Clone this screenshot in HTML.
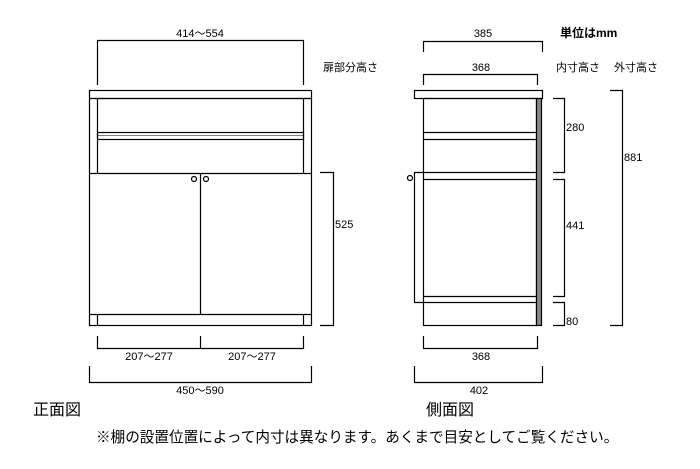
<!DOCTYPE html>
<html><head><meta charset="utf-8"><style>
body{margin:0;background:#fff}
svg text{font-family:"Liberation Sans","Noto Sans CJK JP",sans-serif;fill:#000}
</style></head><body>
<svg width="700" height="464" viewBox="0 0 700 464" xmlns="http://www.w3.org/2000/svg">
<g fill="none" stroke="#000" stroke-width="1.2">
<!-- FRONT -->
<rect x="89.5" y="90.5" width="222" height="8"/>
<rect x="89.5" y="98.5" width="222" height="227"/>
<line x1="97.5" y1="98" x2="97.5" y2="173"/>
<line x1="303.5" y1="98" x2="303.5" y2="173"/>
<rect x="97.5" y="132.5" width="206" height="7"/>
<line x1="97.5" y1="135.5" x2="303.5" y2="135.5" stroke-width="0.6"/>
<line x1="89" y1="173.5" x2="311" y2="173.5"/>
<line x1="200.5" y1="173" x2="200.5" y2="314"/>
<line x1="89" y1="314.5" x2="311" y2="314.5"/>
<line x1="97.5" y1="314" x2="97.5" y2="326"/>
<line x1="303.5" y1="314" x2="303.5" y2="326"/>
<circle cx="194" cy="179" r="2.5"/>
<circle cx="206" cy="179" r="2.5"/>
<!-- front dims -->
<polyline points="97.5,85 97.5,40.5 303.5,40.5 303.5,85"/>
<polyline points="320,172.5 333.5,172.5 333.5,325.5 320,325.5"/>
<polyline points="97.5,336 97.5,348.5 303.5,348.5 303.5,336"/>
<line x1="200.5" y1="336" x2="200.5" y2="348"/>
<polyline points="89.5,366 89.5,382.5 311.5,382.5 311.5,366"/>
<!-- SIDE -->
<rect x="414.5" y="90.5" width="128" height="8"/>
<rect x="423.5" y="98.5" width="113" height="227"/>
<rect x="536.5" y="98.5" width="5" height="227" fill="#888"/>
<line x1="423" y1="132.5" x2="537" y2="132.5"/>
<line x1="423" y1="139.5" x2="537" y2="139.5"/>
<line x1="423" y1="172.5" x2="537" y2="172.5"/>
<line x1="423" y1="179.5" x2="537" y2="179.5"/>
<line x1="423" y1="296.5" x2="537" y2="296.5"/>
<polyline points="423,172.5 414.5,172.5 414.5,302.5 537,302.5"/>
<circle cx="410" cy="178" r="2.5"/>
<!-- side dims -->
<polyline points="423.5,52 423.5,41.5 542.5,41.5 542.5,52"/>
<polyline points="423.5,85 423.5,74.5 537.5,74.5 537.5,85"/>
<polyline points="553,98.5 564.5,98.5 564.5,172.5 553,172.5"/>
<polyline points="553,179.5 564.5,179.5 564.5,296.5 553,296.5"/>
<polyline points="553,302.5 564.5,302.5 564.5,325.5 553,325.5"/>
<polyline points="610,90.5 622.5,90.5 622.5,325.5 610,325.5"/>
<polyline points="423.5,336 423.5,348.5 537.5,348.5 537.5,336"/>
<polyline points="414.5,366 414.5,382.5 542.5,382.5 542.5,366"/>
</g>
<g font-size="11">
<text x="200" y="37" text-anchor="middle">414～554</text>
<text x="323" y="71">扉部分高さ</text>
<text x="335" y="228">525</text>
<text x="149" y="360" text-anchor="middle">207～277</text>
<text x="252" y="360" text-anchor="middle">207～277</text>
<text x="200" y="394" text-anchor="middle">450～590</text>
<text x="483" y="37" text-anchor="middle">385</text>
<text x="481" y="71" text-anchor="middle">368</text>
<text x="556" y="71">内寸高さ</text>
<text x="614" y="71">外寸高さ</text>
<text x="566" y="131">280</text>
<text x="566" y="229">441</text>
<text x="566" y="325">80</text>
<text x="624" y="161">881</text>
<text x="481" y="360" text-anchor="middle">368</text>
<text x="479" y="394" text-anchor="middle">402</text>
</g>
<text x="560" y="37" font-size="12" font-weight="bold">単位はmm</text>
<text x="33" y="415" font-size="16">正面図</text>
<text x="426" y="415" font-size="16">側面図</text>
<text x="96" y="442" font-size="14.6">※棚の設置位置によって内寸は異なります。あくまで目安としてご覧ください。</text>
</svg>
</body></html>
